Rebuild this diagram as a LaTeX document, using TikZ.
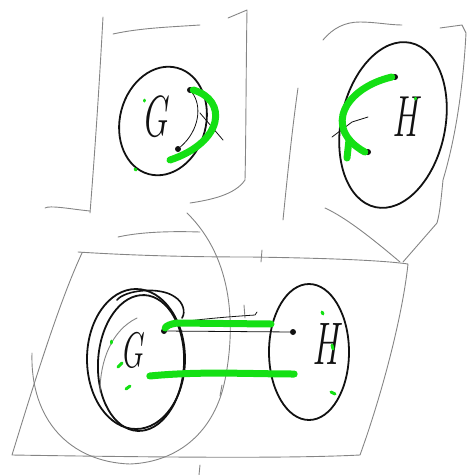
\documentclass[tikz,border=0pt]{standalone}
\usetikzlibrary{shapes.geometric,positioning}
\definecolor{pen}{HTML}{111111}
\definecolor{pencil}{HTML}{858585}
\definecolor{marker}{HTML}{14E014}

\tikzset{
  frame/.style={pencil,line width=0.9pt,line cap=round,line join=round},
  blob/.style={draw=pen,ellipse,line width=1.8pt,inner sep=0pt},
  glyph/.style={pen,inner sep=0pt,font=\fontsize{58}{58}\selectfont\itshape,xscale=0.6},
  stroke/.style={marker,line width=7pt,line cap=round},
  speck/.style={marker,line width=3pt,line cap=round},
  thin/.style={pen,line width=0.8pt,line cap=round},
  dot/.style={circle,fill=pen,inner sep=0pt,minimum size=6pt}
}

\begin{document}
\begin{tikzpicture}[x=1pt,y=1pt]
  \useasboundingbox (0,0) rectangle (467,-475);

  % Top-left panel
  \draw[frame] (103,-17) .. controls (99,-90) and (95,-150) .. (90,-213);
  \draw[frame] (113,-34) .. controls (140,-28) and (170,-27) .. (200,-25);
  \draw[frame] (228,-18) -- (247,-10) .. controls (246,-70) and (246,-140) .. (245,-180)
    .. controls (235,-195) and (210,-200) .. (190,-203);
  \node[blob,minimum width=86pt,minimum height=110pt,rotate=-15] (gTopBlob) at (163,-121) {};
  \node[glyph] (gTop) at (155,-117) {G};
  \node[dot] (gTopA) at (190,-90) {};
  \node[dot] (gTopB) at (178,-149) {};
  \draw[thin] (gTopA) .. controls (202,-105) and (200,-130) .. (gTopB);
  \draw[thin] (200,-113) -- (223,-140);
  \coordinate (gTopEnd) at (170,-160);
  \draw[stroke] (gTopA.east) .. controls (228,-100) and (224,-142) .. (gTopEnd);
  \draw[speck] (144,-100) -- (144,-101);
  \draw[speck] (135,-169) -- (136,-170);

  % Top-right panel
  \draw[frame] (298,-88) .. controls (292,-130) and (287,-180) .. (283,-220);
  \draw[frame] (323,-40) .. controls (333,-28) and (345,-22) .. (360,-22)
    .. controls (375,-22) and (390,-25) .. (402,-25);
  \draw[frame] (440,-28) -- (462,-25) -- (466,-33) .. controls (463,-90) and (455,-140) .. (443,-180)
    .. controls (441,-200) and (440,-212) .. (437,-223) -- (403,-262);
  \draw[frame] (325,-208) .. controls (340,-215) and (360,-228) .. (400,-262);
  \node[blob,minimum width=104pt,minimum height=168pt,rotate=-12] (hTopBlob) at (393,-125) {};
  \node[glyph] (hTop) at (405,-117) {H};
  \node[dot] (hTopA) at (395,-77) {};
  \node[dot] (hTopB) at (368,-152) {};
  \draw[thin] (368,-117) -- (352,-122) -- (332,-137);
  \draw[stroke] (hTopA.west) .. controls (345,-88) and (322,-128) .. (hTopB.west);
  \draw[stroke] (349,-140) -- (347,-158);
  \draw[speck] (415,-98) -- (415,-99);

  % Bottom panel
  \draw[frame] (45,-208) .. controls (50,-205) and (70,-209) .. (90,-211);
  \draw[frame] (118,-237) .. controls (140,-232) and (170,-231) .. (200,-232);
  \draw[frame] (78,-252) .. controls (140,-256) and (200,-257) .. (250,-257)
    .. controls (320,-258) and (380,-260) .. (408,-264)
    .. controls (402,-320) and (380,-400) .. (360,-455)
    .. controls (300,-458) and (200,-458) .. (12,-455)
    .. controls (35,-380) and (60,-300) .. (82,-253);
  \draw[frame] (187,-213) .. controls (235,-260) and (235,-330) .. (225,-380)
    .. controls (215,-430) and (180,-462) .. (130,-464)
    .. controls (70,-462) and (30,-420) .. (32,-353);
  \draw[frame] (262,-250) -- (261,-262);
  \draw[frame] (244,-305) -- (245,-318);
  \draw[frame] (222,-385) -- (220,-396);
  \draw[frame] (200,-465) -- (199,-475);

  \node[blob,minimum width=98pt,minimum height=140pt] (gBotBlob) at (136,-359) {};
  \node[blob,minimum width=86pt,minimum height=136pt,rotate=-3] (gBotRim) at (141,-363) {};
  \draw[pen,line width=1.6pt,line cap=round] (117,-300) .. controls (125,-290) and (160,-286) .. (175,-297)
    .. controls (183,-302) and (186,-312) .. (182,-318);
  \draw[frame] (137,-318) .. controls (112,-330) and (100,-360) .. (100,-392);
  \node[glyph,font=\fontsize{50}{50}\selectfont\itshape] (gBot) at (132,-350) {G};

  \node[blob,minimum width=80pt,minimum height=136pt] (hBotBlob) at (309,-352) {};
  \node[glyph,font=\fontsize{60}{60}\selectfont\itshape] (hBot) at (326,-344) {H};

  \node[dot] (gBotA) at (164,-331) {};
  \node[dot] (gBotB) at (153,-376) {};
  \node[dot] (hBotA) at (293,-332) {};
  \node[dot] (hBotB) at (291,-374) {};

  \draw[thin] (gBotA) -- (hBotA);
  \draw[thin] (180,-322) .. controls (210,-318) and (240,-316) .. (255,-315) -- (257,-312);
  \coordinate (gBotTop) at (177,-323);
  \coordinate (hBotTop) at (271,-324);
  \draw[stroke] (gBotA) .. controls (166,-326) and (170,-324) .. (gBotTop) -- (hBotTop);
  \draw[stroke] (gBotB.west) .. controls (200,-371) and (250,-374) .. (hBotB.east);

  \draw[speck] (111,-341) -- (111,-343);
  \draw[speck] (118,-367) -- (122,-363);
  \draw[speck] (126,-389) -- (130,-386);
  \draw[speck] (322,-312) -- (323,-314);
  \draw[speck] (332,-345) -- (333,-349);
  \draw[speck] (331,-392) -- (335,-394);
\end{tikzpicture}
\end{document}
